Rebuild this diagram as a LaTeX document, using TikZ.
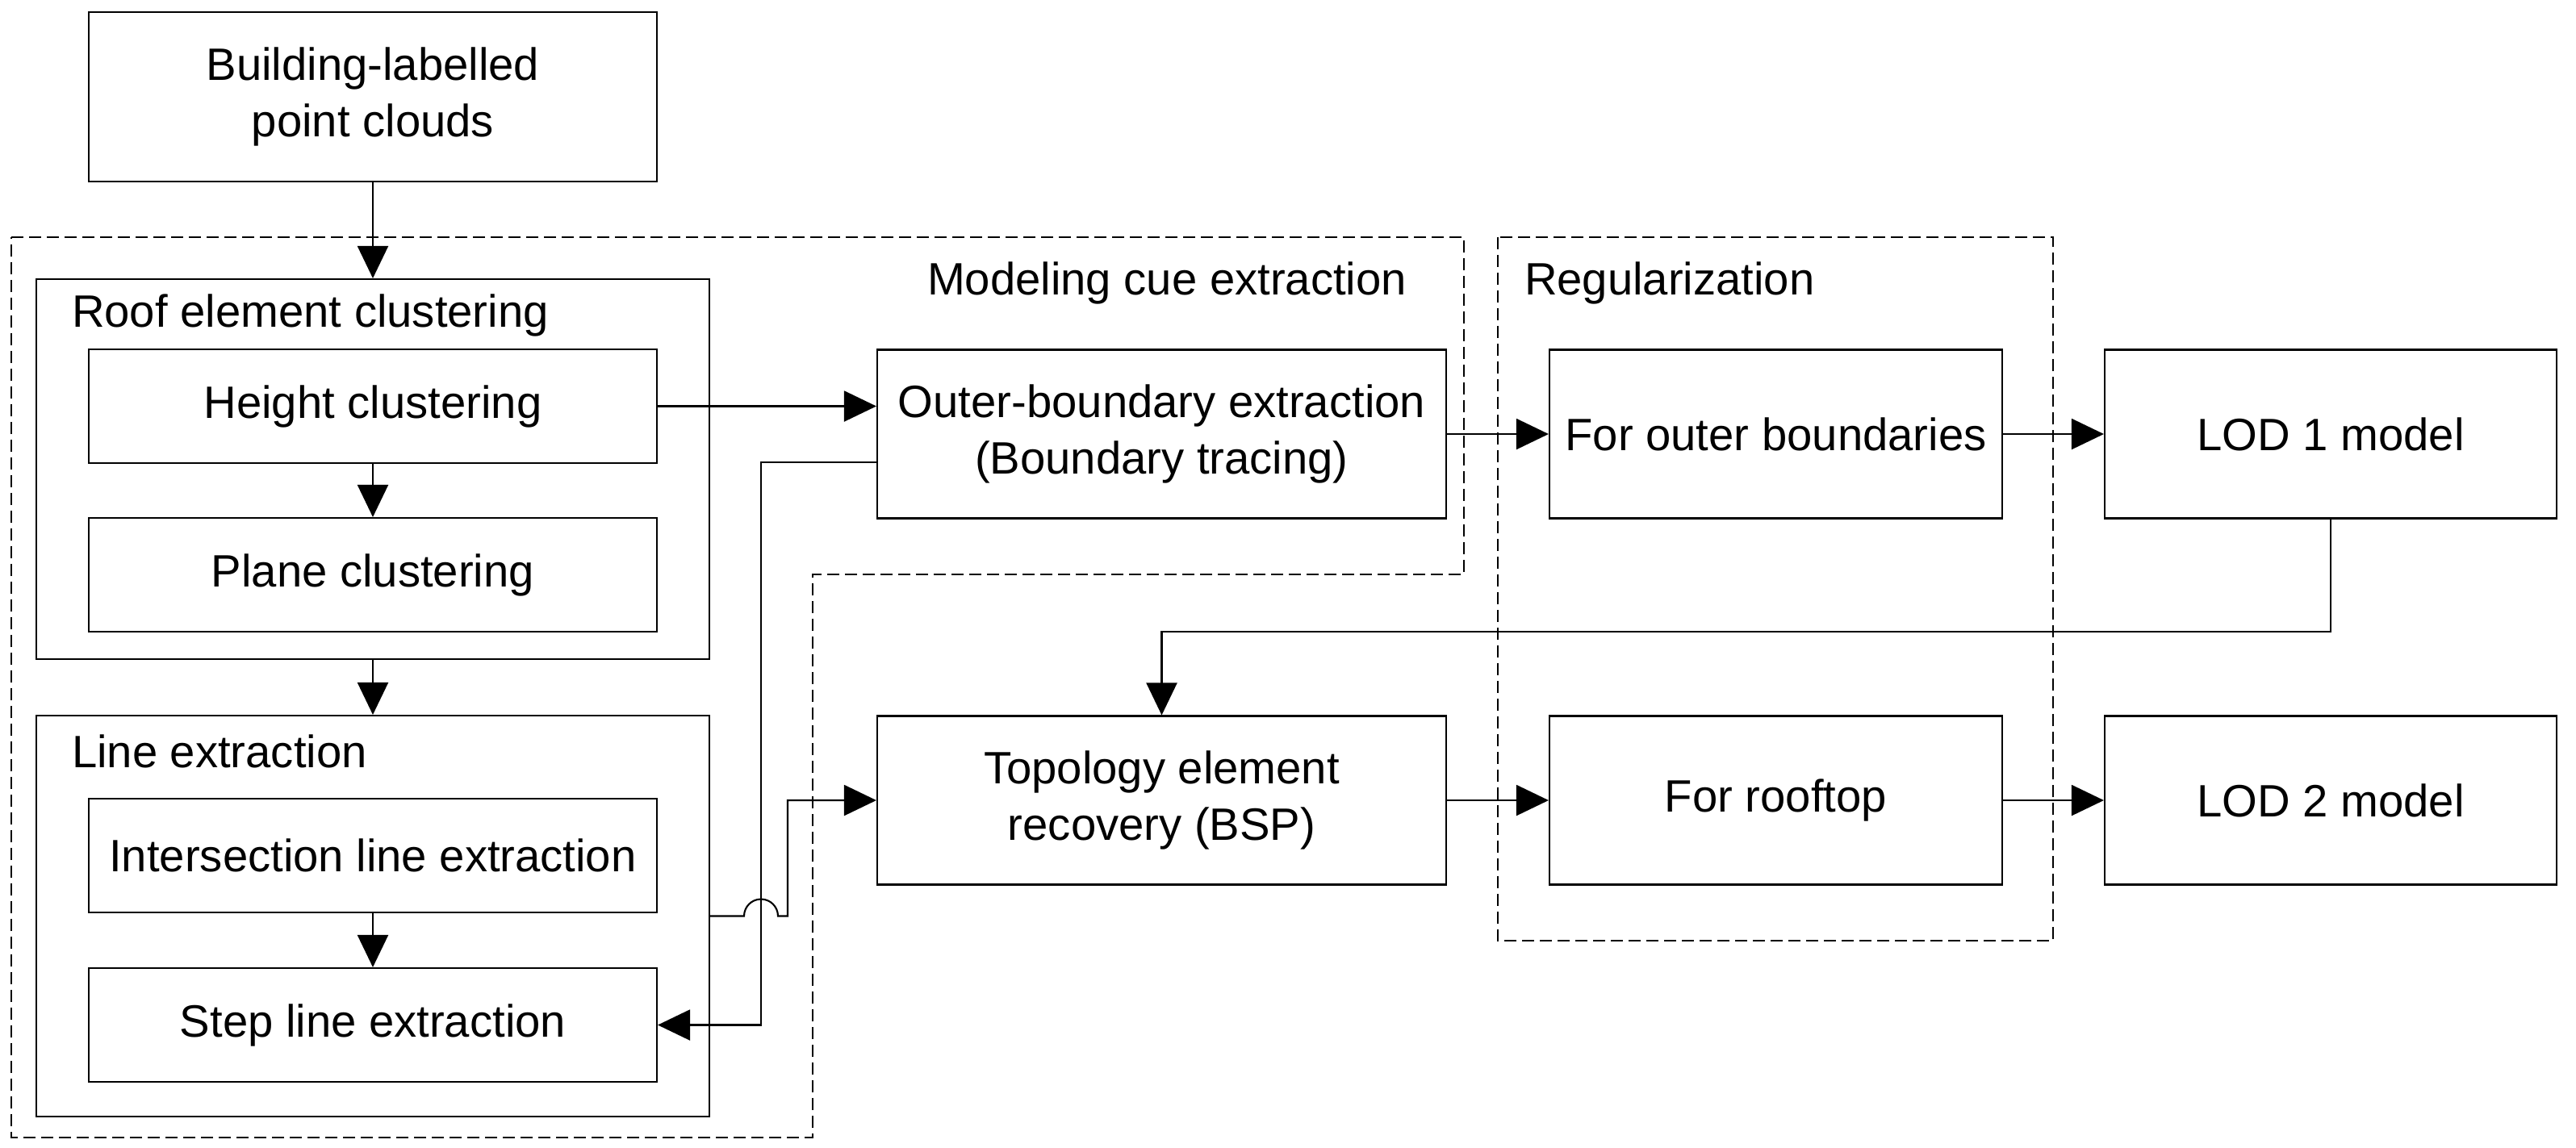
\documentclass[tikz,border=0pt]{standalone}
\usepackage{fontspec}
\setmainfont{Liberation Sans}
\usetikzlibrary{arrows.meta}

\begin{document}
\begin{tikzpicture}[
	font=\fontsize{16}{20}\selectfont,
	line width=0.6pt,
	box/.style={draw, minimum width=7.04cm, minimum height=1.41cm, align=center, inner sep=0pt},
	bigbox/.style={draw, minimum height=2.09cm, align=center, inner sep=0pt},
	grp/.style={draw, minimum width=8.34cm, inner sep=0pt},
	lbl/.style={inner sep=0pt},
	cue/.style={dash pattern=on 0.15cm off 0.07cm},
	arr/.style={-{Triangle[length=0.40cm,width=0.38cm]}}
	]
	\useasboundingbox (0,0) rectangle (31.92,-14.22);
	% dashed stages
	\draw[cue] (0.14,-2.94) -- (18.14,-2.94) -- (18.14,-7.12) -- (10.07,-7.12) -- (10.07,-14.10) -- (0.14,-14.10) -- cycle;
	\draw[cue] (18.56,-2.94) rectangle (25.44,-11.66);
	\node[lbl, anchor=base] (cuelbl) at (14.46,-3.65) {Modeling cue extraction};
	\node[lbl, anchor=base west] (reglbl) at (18.88,-3.65) {Regularization};
	% left column
	\node[box, minimum height=2.10cm] (build) at (4.62,-1.20) {Building-labelled\\point clouds};
	\node[grp, minimum height=4.71cm] (roof) at (4.62,-5.815) {};
	\node[lbl, anchor=base west] (rooflbl) at (0.88,-4.05) {Roof element clustering};
	\node[box] (height) at (4.62,-5.035) {Height clustering};
	\node[box] (plane) at (4.62,-7.125) {Plane clustering};
	\node[grp, minimum height=4.97cm] (line) at (4.62,-11.355) {};
	\node[lbl, anchor=base west] (linelbl) at (0.88,-9.51) {Line extraction};
	\node[box] (inter) at (4.62,-10.605) {Intersection line extraction};
	\node[box] (step) at (4.62,-12.705) {Step line extraction};
	% cue extraction
	\node[bigbox, minimum width=7.05cm] (ob) at (14.395,-5.38) {Outer-boundary extraction\\(Boundary tracing)};
	\node[bigbox, minimum width=7.05cm] (topo) at (14.395,-9.92) {Topology element\\recovery (BSP)};
	% regularization and models
	\node[bigbox, minimum width=5.61cm] (forob) at (22.005,-5.38) {For outer boundaries};
	\node[bigbox, minimum width=5.61cm] (forroof) at (22.005,-9.92) {For rooftop};
	\node[bigbox, minimum width=5.60cm] (lod1) at (28.88,-5.38) {LOD 1 model};
	\node[bigbox, minimum width=5.60cm] (lod2) at (28.88,-9.92) {LOD 2 model};
	% arrows
	\draw[arr] (build) -- (roof);
	\draw[arr] (height) -- (plane);
	\draw[arr] (roof) -- (line);
	\draw[arr] (inter) -- (step);
	\draw[arr] (height.east) -- (height.east -| ob.west);
	\draw[arr] (ob) -- (forob);
	\draw[arr] (forob) -- (lod1);
	\draw[arr] (topo) -- (forroof);
	\draw[arr] (forroof) -- (lod2);
	\draw[arr] (lod1.south) -- ++(0,-1.39) -| (topo.north);
	\coordinate (obout) at ([yshift=-0.35cm]ob.west);
	\coordinate (jx) at (9.43,-11.355);
	\draw[arr] (obout) -- (obout -| jx) -- (jx |- step.east) -- (step.east);
	\draw[arr] (line.east) -- ([xshift=-0.21cm]jx) arc[start angle=180, end angle=0, radius=0.21cm] -- ++(0.12,0) |- (topo.west);
\end{tikzpicture}
\end{document}
